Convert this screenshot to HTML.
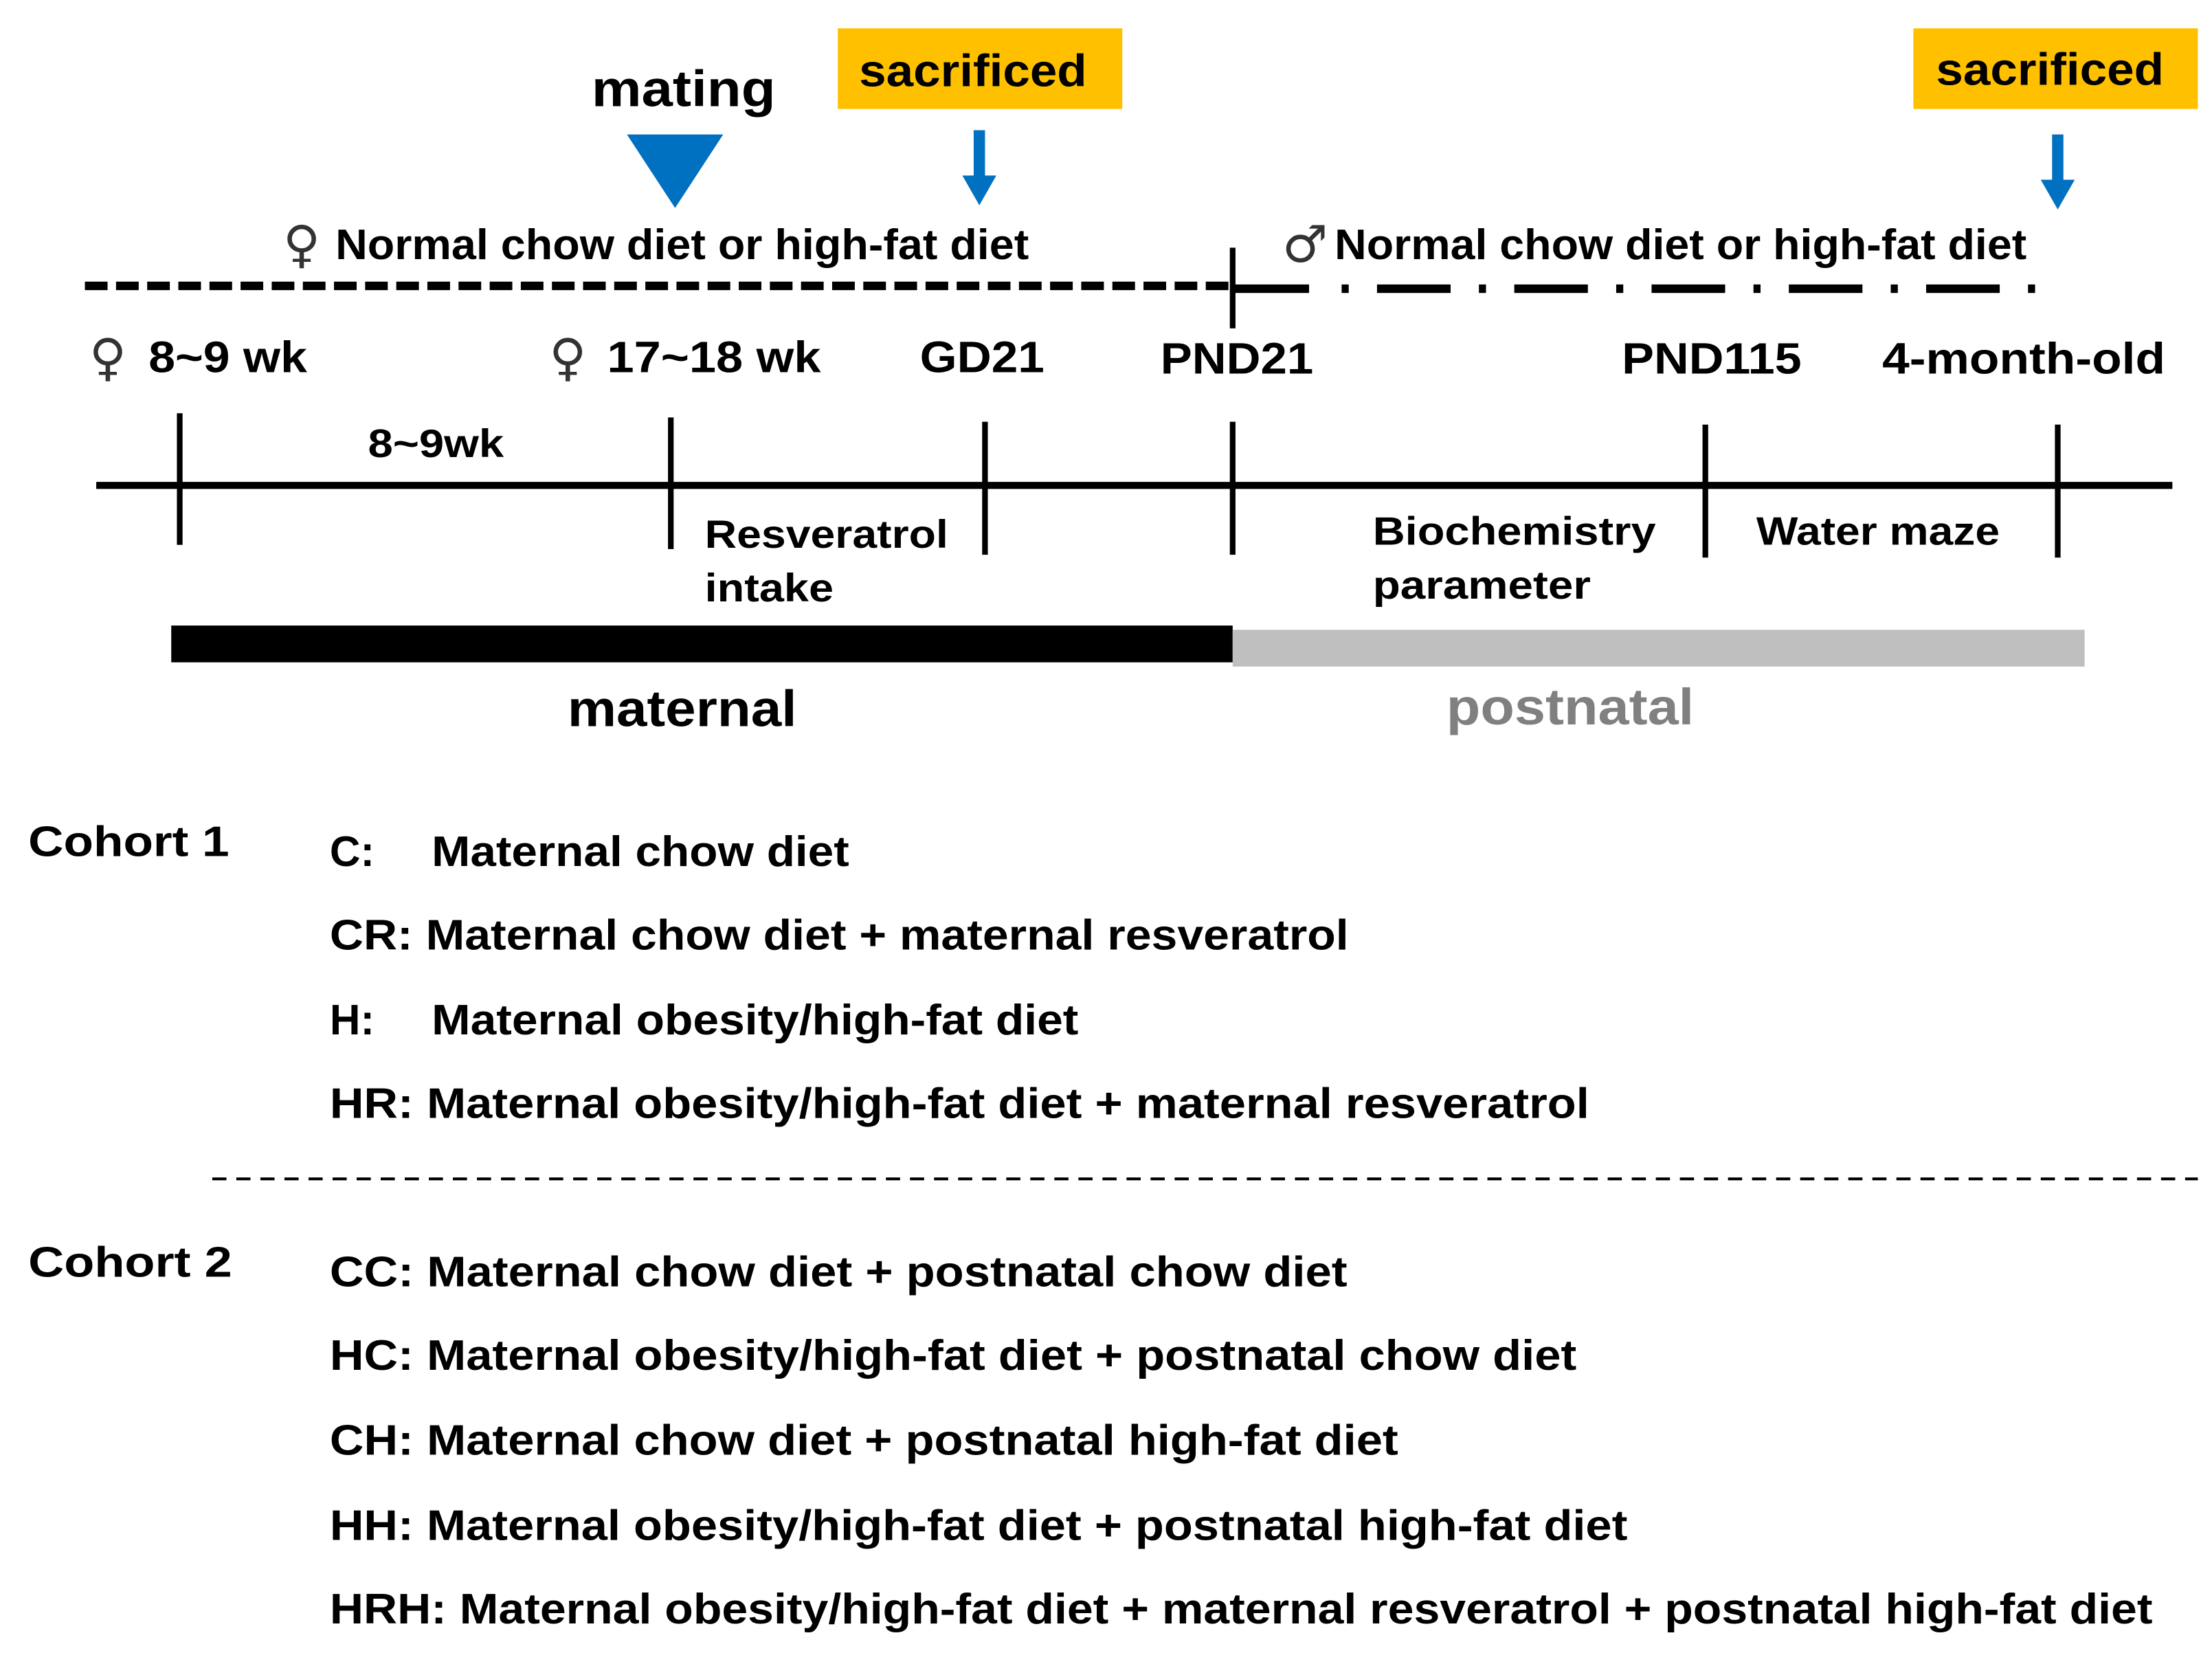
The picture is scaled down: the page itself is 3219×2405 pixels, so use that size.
<!DOCTYPE html>
<html><head><meta charset="utf-8">
<style>
html,body{margin:0;padding:0;background:#fff;}
svg{display:block;}
text{font-family:"Liberation Sans",Arial,sans-serif;font-weight:bold;fill:#000;}
.sym{font-family:"DejaVu Sans",sans-serif;font-weight:normal;font-size:36px;fill:#333;}
</style></head>
<body>
<svg width="3219" height="2405" viewBox="0 0 1563 1168" preserveAspectRatio="none" xmlns="http://www.w3.org/2000/svg">
<rect width="1563" height="1168" fill="#fff"/>
<text x="418" y="75" font-size="36" textLength="130" lengthAdjust="spacingAndGlyphs">mating</text>
<polygon points="443,95 511,95 477,147" fill="#0070C0"/>
<rect x="592" y="20" width="201" height="57" fill="#FFC000"/>
<text x="607" y="61" font-size="32" textLength="161" lengthAdjust="spacingAndGlyphs">sacrificed</text>
<rect x="1352" y="20" width="201" height="57" fill="#FFC000"/>
<text x="1368" y="60" font-size="32" textLength="161" lengthAdjust="spacingAndGlyphs">sacrificed</text>
<rect x="688" y="92" width="8" height="34" fill="#0070C0"/>
<polygon points="680,124 704,124 692,145" fill="#0070C0"/>
<rect x="1450" y="95" width="8" height="34" fill="#0070C0"/>
<polygon points="1442,127 1466,127 1454,148" fill="#0070C0"/>
<text x="200" y="185" class="sym">♀</text>
<text x="237" y="183" font-size="30" textLength="490" lengthAdjust="spacingAndGlyphs">Normal chow diet or high-fat diet</text>
<text x="906" y="185" class="sym">♂</text>
<text x="943" y="183" font-size="30" textLength="489" lengthAdjust="spacingAndGlyphs">Normal chow diet or high-fat diet</text>
<line x1="60" y1="202" x2="870" y2="202" stroke="#000" stroke-width="6" stroke-dasharray="16,6"/>
<line x1="871" y1="204" x2="925" y2="204" stroke="#000" stroke-width="6"/>
<line x1="948" y1="204" x2="1450" y2="204" stroke="#000" stroke-width="6" stroke-dasharray="5,20,52,20"/>
<line x1="871" y1="175" x2="871" y2="232" stroke="#000" stroke-width="4"/>
<text x="63" y="265" class="sym">♀</text>
<text x="105" y="263" font-size="31" textLength="112" lengthAdjust="spacingAndGlyphs">8~9 wk</text>
<text x="388" y="265" class="sym">♀</text>
<text x="429" y="263" font-size="31" textLength="151" lengthAdjust="spacingAndGlyphs">17~18 wk</text>
<text x="650" y="263" font-size="31" textLength="88" lengthAdjust="spacingAndGlyphs">GD21</text>
<text x="820" y="264" font-size="31" textLength="108" lengthAdjust="spacingAndGlyphs">PND21</text>
<text x="1146" y="264" font-size="31" textLength="127" lengthAdjust="spacingAndGlyphs">PND115</text>
<text x="1330" y="264" font-size="31" textLength="200" lengthAdjust="spacingAndGlyphs">4-month-old</text>
<line x1="68" y1="343" x2="1535" y2="343" stroke="#000" stroke-width="5"/>
<g stroke="#000" stroke-width="4">
<line x1="127" y1="292" x2="127" y2="385"/>
<line x1="474" y1="295" x2="474" y2="388"/>
<line x1="696" y1="298" x2="696" y2="392"/>
<line x1="871" y1="298" x2="871" y2="392"/>
<line x1="1205" y1="300" x2="1205" y2="394"/>
<line x1="1454" y1="300" x2="1454" y2="394"/>
</g>
<text x="260" y="323" font-size="28" textLength="96" lengthAdjust="spacingAndGlyphs">8~9wk</text>
<text x="498" y="387" font-size="28" textLength="172" lengthAdjust="spacingAndGlyphs">Resveratrol</text>
<text x="498" y="425" font-size="28" textLength="91" lengthAdjust="spacingAndGlyphs">intake</text>
<text x="970" y="385" font-size="28" textLength="200" lengthAdjust="spacingAndGlyphs">Biochemistry</text>
<text x="970" y="423" font-size="28" textLength="154" lengthAdjust="spacingAndGlyphs">parameter</text>
<text x="1241" y="385" font-size="28" textLength="172" lengthAdjust="spacingAndGlyphs">Water maze</text>
<rect x="121" y="442" width="750" height="26" fill="#000"/>
<rect x="871" y="445" width="602" height="26" fill="#BFBFBF"/>
<text x="401" y="513" font-size="36" textLength="162" lengthAdjust="spacingAndGlyphs">maternal</text>
<text x="1022" y="512" font-size="36" textLength="175" lengthAdjust="spacingAndGlyphs" style="fill:#808080">postnatal</text>
<text x="20" y="605" font-size="30" textLength="142" lengthAdjust="spacingAndGlyphs">Cohort 1</text>
<text x="233" y="612" font-size="30">C:</text>
<text x="305" y="612" font-size="30" textLength="295" lengthAdjust="spacingAndGlyphs">Maternal chow diet</text>
<text x="233" y="671" font-size="30" textLength="720" lengthAdjust="spacingAndGlyphs">CR: Maternal chow diet + maternal resveratrol</text>
<text x="233" y="731" font-size="30">H:</text>
<text x="305" y="731" font-size="30" textLength="457" lengthAdjust="spacingAndGlyphs">Maternal obesity/high-fat diet</text>
<text x="233" y="790" font-size="30" textLength="890" lengthAdjust="spacingAndGlyphs">HR: Maternal obesity/high-fat diet  + maternal resveratrol</text>
<line x1="150" y1="833" x2="1553" y2="833" stroke="#000" stroke-width="2" stroke-dasharray="10,7"/>
<text x="20" y="902" font-size="30" textLength="144" lengthAdjust="spacingAndGlyphs">Cohort 2</text>
<text x="233" y="909" font-size="30" textLength="719" lengthAdjust="spacingAndGlyphs">CC:  Maternal chow diet + postnatal chow diet</text>
<text x="233" y="968" font-size="30" textLength="881" lengthAdjust="spacingAndGlyphs">HC:  Maternal obesity/high-fat diet + postnatal chow diet</text>
<text x="233" y="1028" font-size="30" textLength="755" lengthAdjust="spacingAndGlyphs">CH:  Maternal chow diet + postnatal high-fat diet</text>
<text x="233" y="1088" font-size="30" textLength="917" lengthAdjust="spacingAndGlyphs">HH:  Maternal obesity/high-fat diet + postnatal high-fat diet</text>
<text x="233" y="1147" font-size="30" textLength="1288" lengthAdjust="spacingAndGlyphs">HRH: Maternal obesity/high-fat diet + maternal resveratrol + postnatal high-fat diet</text>
</svg>
</body></html>
